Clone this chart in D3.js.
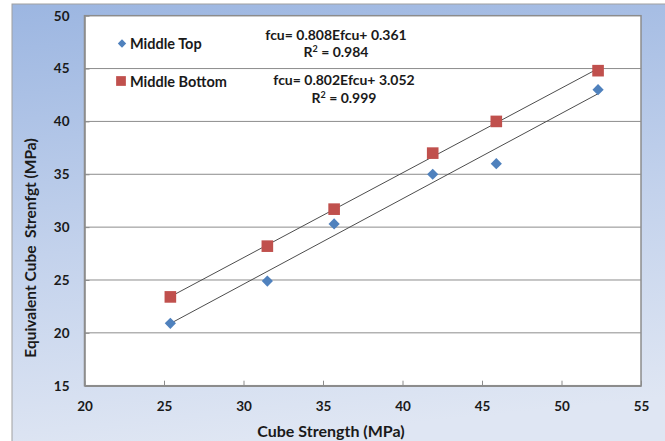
<!DOCTYPE html>
<html>
<head>
<meta charset="utf-8">
<script src="https://cdn.jsdelivr.net/npm/d3@7"></script>
<style>
  html, body { margin: 0; padding: 0; background: #ffffff; }
  svg { display: block; font-family: Lato, "Open Sans", sans-serif; }
</style>
</head>
<body>
<svg id="chart" width="665" height="441"></svg>
<script>
// Cube strength (x) and equivalent cube strength for the two test positions
const cubeStrength = [25.4, 31.5, 35.7, 41.9, 45.9, 52.3];
const middleTop    = [20.9, 24.9, 30.3, 35.0, 36.0, 43.0];
const middleBottom = [23.4, 28.2, 31.7, 37.0, 40.0, 44.8];

// Linear fits reported on the chart
const fitTop    = { slope: 0.808, intercept: 0.361, r2: "0.984" };
const fitBottom = { slope: 0.802, intercept: 3.052, r2: "0.999" };

const xTicks = [20, 25, 30, 35, 40, 45, 50, 55];
const yTicks = [15, 20, 25, 30, 35, 40, 45, 50];

const svg = d3.select("#chart");

// Chart background with blue gradient
const defs = svg.append("defs");
const grad = defs.append("linearGradient")
  .attr("id", "bg").attr("x1", "0").attr("y1", "0").attr("x2", "0.15").attr("y2", "1");
grad.append("stop").attr("offset", "0%").attr("stop-color", "#9cb6e1");
grad.append("stop").attr("offset", "55%").attr("stop-color", "#c3d2ec");
grad.append("stop").attr("offset", "100%").attr("stop-color", "#dfe6f3");

svg.append("rect")
  .attr("x", 12).attr("y", 4).attr("width", 660).attr("height", 450)
  .attr("fill", "url(#bg)").attr("stroke", "#a0a0a0").attr("stroke-width", 1);

const plot = { left: 84.5, top: 15.7, right: 641, bottom: 385.7 };

const x = d3.scaleLinear().domain([20, 55]).range([plot.left, plot.right]);
const y = d3.scaleLinear().domain([15, 50]).range([plot.bottom, plot.top]);

// Plot area
svg.append("rect")
  .attr("x", plot.left).attr("y", plot.top)
  .attr("width", plot.right - plot.left).attr("height", plot.bottom - plot.top)
  .attr("fill", "#ffffff");

// Horizontal gridlines
svg.append("g").selectAll("line")
  .data(yTicks.slice(1, -1))
  .join("line")
  .attr("x1", plot.left).attr("x2", plot.right)
  .attr("y1", d => y(d)).attr("y2", d => y(d))
  .attr("stroke", "#8c8c8c").attr("stroke-width", 1);

// Axes
const xAxis = svg.append("g")
  .attr("transform", `translate(0,${plot.bottom})`)
  .call(d3.axisBottom(x).tickValues(xTicks).tickSizeInner(-5).tickSizeOuter(0).tickPadding(16));
const yAxis = svg.append("g")
  .attr("transform", `translate(${plot.left},0)`)
  .call(d3.axisLeft(y).tickValues(yTicks).tickSizeInner(-5).tickSizeOuter(0).tickPadding(15));

[xAxis, yAxis].forEach(g => {
  g.select(".domain").attr("stroke", "#8c8c8c").attr("stroke-width", 1.5);
  g.selectAll(".tick line").attr("stroke", "#8c8c8c");
  g.selectAll(".tick text")
    .attr("fill", "#1a1a1a").attr("font-size", 13.5).attr("font-weight", "bold")
    .attr("font-family", "Lato, sans-serif");
});

// Plot frame (top and right)
svg.append("rect")
  .attr("x", plot.left).attr("y", plot.top)
  .attr("width", plot.right - plot.left).attr("height", plot.bottom - plot.top)
  .attr("fill", "none").attr("stroke", "#8c8c8c").attr("stroke-width", 1.5);

// Trend lines from the fitted equations across the data range
const xMin = d3.min(cubeStrength), xMax = d3.max(cubeStrength);
[fitTop, fitBottom].forEach(f => {
  svg.append("line")
    .attr("x1", x(xMin)).attr("y1", y(f.slope * xMin + f.intercept))
    .attr("x2", x(xMax)).attr("y2", y(f.slope * xMax + f.intercept))
    .attr("stroke", "#4d4d4d").attr("stroke-width", 1);
});

// Data markers
const diamond = d3.symbol().type(d3.symbolDiamond2).size(80);
const square = d3.symbol().type(d3.symbolSquare).size(135);

svg.append("g").selectAll("path")
  .data(cubeStrength.map((c, i) => [c, middleBottom[i]]))
  .join("path")
  .attr("d", square)
  .attr("transform", d => `translate(${x(d[0])},${y(d[1])})`)
  .attr("fill", "#c0504d");

svg.append("g").selectAll("path")
  .data(cubeStrength.map((c, i) => [c, middleTop[i]]))
  .join("path")
  .attr("d", diamond)
  .attr("transform", d => `translate(${x(d[0])},${y(d[1])})`)
  .attr("fill", "#4f81bd");

// Legend
const legend = svg.append("g").attr("font-size", 14.5).attr("font-weight", "bold").attr("fill", "#1a1a1a");
legend.append("path").attr("d", d3.symbol().type(d3.symbolDiamond2).size(45))
  .attr("transform", "translate(122,43.5)").attr("fill", "#4f81bd");
legend.append("text").attr("x", 130).attr("y", 48.5).text("Middle Top");
legend.append("path").attr("d", d3.symbol().type(d3.symbolSquare).size(95))
  .attr("transform", "translate(121,81)").attr("fill", "#c0504d");
legend.append("text").attr("x", 130).attr("y", 86.5).text("Middle Bottom");

// Equation labels
const eq = svg.append("g").attr("font-size", 14).attr("font-weight", "bold")
  .attr("fill", "#1a1a1a").attr("text-anchor", "middle");
function eqLabel(f, cx, cy) {
  eq.append("text").attr("x", cx).attr("y", cy)
    .text(`fcu= ${f.slope.toFixed(3)}Efcu+ ${f.intercept.toFixed(3)}`);
  const r = eq.append("text").attr("x", cx).attr("y", cy + 17.5);
  r.append("tspan").text("R");
  r.append("tspan").attr("font-size", 9).attr("dy", -5).text("2");
  r.append("tspan").attr("dy", 5).text(` = ${f.r2}`);
}
eqLabel(fitTop, 336, 39.5);
eqLabel(fitBottom, 344, 85);

// Axis titles
svg.append("text")
  .attr("x", 331).attr("y", 437)
  .attr("text-anchor", "middle").attr("font-size", 16).attr("font-weight", "bold")
  .attr("fill", "#1a1a1a").text("Cube Strength (MPa)");
svg.append("text")
  .attr("transform", "translate(36,248) rotate(-90)")
  .attr("text-anchor", "middle").attr("font-size", 15.5).attr("font-weight", "bold")
  .attr("fill", "#1a1a1a").style("white-space", "pre")
  .text("Equivalent Cube  Strenfgt (MPa)");
</script>
</body>
</html>
